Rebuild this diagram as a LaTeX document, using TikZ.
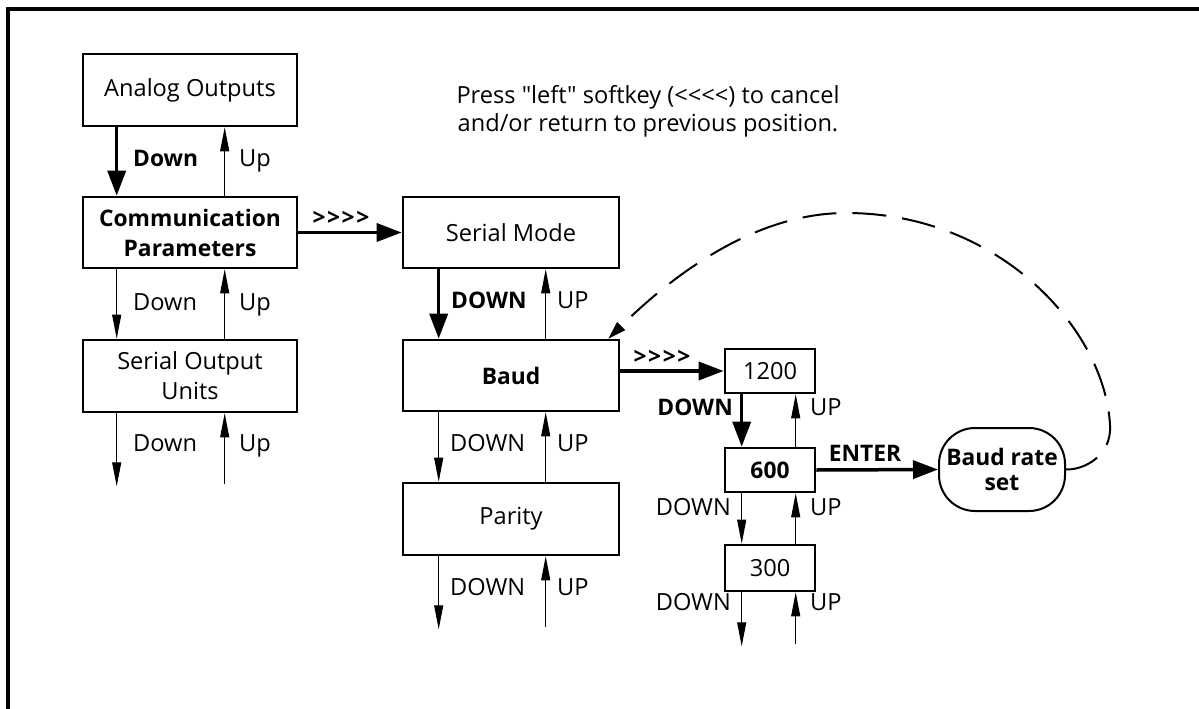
\documentclass[tikz,border=0pt]{standalone}
\usepackage{fontspec}
\setmainfont{Open Sans}
\newfontfamily\plainfont{Open Sans}
\usetikzlibrary{arrows.meta,calc}
\begin{document}
\begin{tikzpicture}[x=1pt,y=-1pt,
  every node/.style={font=\fontsize{23.6}{30}\selectfont},
  bf/.style={font=\fontsize{22.8}{30}\selectfont\bfseries},
  box/.style={draw,line width=2.6pt,minimum width=214pt,minimum height=72pt,inner sep=0pt,align=center},
  sbox/.style={draw,line width=2.6pt,minimum width=90pt,minimum height=44pt,inner sep=0pt,align=center},
  lbl/.style={inner sep=0pt,text height=16pt,text depth=0pt},
  tharrow/.style={line width=3.5pt,-{Triangle[length=25pt,width=18pt]}},
  tnarrow/.style={line width=1pt,-{Triangle[length=24pt,width=9pt]}},
  loopline/.style={line width=2pt,dash pattern=on 34pt off 16pt,-{Triangle[length=18pt,width=11pt]}},
  gt/.style={inner sep=0pt,text height=16pt,text depth=0pt,font=\fontsize{22.8}{30}\plainfont\bfseries}
]
\useasboundingbox (0,0) rectangle (1199,709);
\draw[line width=4pt] (8,709) -- (8,9) -- (1199,9);

% note
\node[align=center,font=\fontsize{23.6}{28}\plainfont] (note) at (648,111) {Press "left" softkey (<<<<) to cancel\\and/or return to previous position.};

% left column
\node[box] (AO) at (190,90) {Analog Outputs};
\node[box,bf,minimum height=71pt] (CP) at (190,232.5) {Communication\\Parameters};
\node[box] (SOU) at (190,376) {Serial Output\\Units};

\draw[tharrow] ([xshift=35pt]AO.south west) -- ([xshift=35pt]CP.north west);
\draw[tnarrow] ([xshift=143pt]CP.north west) -- ([xshift=143pt]AO.south west);
\draw[tnarrow] ([xshift=35pt]CP.south west) -- ([xshift=35pt]SOU.north west);
\draw[tnarrow] ([xshift=143pt]SOU.north west) -- ([xshift=143pt]CP.south west);
\draw[tnarrow] ([xshift=35pt]SOU.south west) -- ++(0,73);
\draw[tnarrow] ([xshift=143pt,yshift=-71pt]SOU.south west) -- ([xshift=143pt]SOU.south west);

\node[lbl,bf,anchor=west] (l1) at (133,158) {Down};
\node[lbl,anchor=west] (l2) at (239,158) {Up};
\node[lbl,anchor=west] (l3) at (133,302) {Down};
\node[lbl,anchor=west] (l4) at (239,302) {Up};
\node[lbl,anchor=west] (l5) at (133,443) {Down};
\node[lbl,anchor=west] (l6) at (239,443) {Up};

% middle column
\node[box,minimum width=216pt,minimum height=71pt] (SM) at (511,232.5) {Serial Mode};
\node[box,bf,minimum width=216pt,minimum height=71pt] (BD) at (511,375.5) {Baud};
\node[box,minimum width=216pt] (PA) at (511,519) {Parity};

\draw[tharrow] (CP.east) -- (SM.west);
\node[gt] (g1) at (341,217) {>\hspace{1.5pt}>\hspace{1.5pt}>\hspace{1.5pt}>};

\draw[tharrow] ([xshift=37pt]SM.south west) -- ([xshift=37pt]BD.north west);
\draw[tnarrow] ([xshift=144pt]BD.north west) -- ([xshift=144pt]SM.south west);
\draw[tnarrow] ([xshift=37pt]BD.south west) -- ([xshift=37pt]PA.north west);
\draw[tnarrow] ([xshift=144pt]PA.north west) -- ([xshift=144pt]BD.south west);
\draw[tnarrow] ([xshift=37pt]PA.south west) -- ++(0,73);
\draw[tnarrow] ([xshift=144pt,yshift=-71pt]PA.south west) -- ([xshift=144pt]PA.south west);

\node[lbl,bf,anchor=west] (m1) at (451,300) {DOWN};
\node[lbl,anchor=west] (m2) at (557,300) {UP};
\node[lbl,anchor=west] (m3) at (450,443) {DOWN};
\node[lbl,anchor=west] (m4) at (557,443) {UP};
\node[lbl,anchor=west] (m5) at (450,587) {DOWN};
\node[lbl,anchor=west] (m6) at (557,587) {UP};

% right column
\node[sbox] (N12) at (770,371) {1200};
\node[sbox,bf] (N6) at (770,470) {600};
\node[sbox,minimum height=46pt] (N3) at (770,568) {300};

\draw[tharrow] (BD.east |- N12.west) -- (N12.west);
\node[gt] (g2) at (662,356) {>\hspace{1.5pt}>\hspace{1.5pt}>\hspace{1.5pt}>};

\draw[tharrow] ([xshift=18pt]N12.south west) -- ([xshift=18pt]N6.north west);
\draw[tnarrow] ([xshift=72pt]N6.north west) -- ([xshift=72pt]N12.south west);
\draw[tnarrow] ([xshift=18pt]N6.south west) -- ([xshift=18pt]N3.north west);
\draw[tnarrow] ([xshift=72pt]N3.north west) -- ([xshift=72pt]N6.south west);
\draw[tnarrow] ([xshift=18pt]N3.south west) -- ++(0,54);
\draw[tnarrow] ([xshift=72pt,yshift=-52pt]N3.south west) -- ([xshift=72pt]N3.south west);

\node[lbl,bf,anchor=east] (r1) at (733,407) {DOWN};
\node[lbl,anchor=west] (r2) at (810,407) {UP};
\node[lbl,anchor=east] (r3) at (731,507) {DOWN};
\node[lbl,anchor=west] (r4) at (810,507) {UP};
\node[lbl,anchor=east] (r5) at (731,602) {DOWN};
\node[lbl,anchor=west] (r6) at (810,602) {UP};

% baud rate set
\node[draw,line width=2pt,rounded corners=36pt,minimum width=126pt,minimum height=83pt,inner sep=0pt,align=center,font=\fontsize{22.8}{25}\selectfont\bfseries] (BRS) at (1002,469.5) {Baud rate\\set};
\draw[tharrow] (N6.east) -- (BRS.west);
\node[lbl,bf] (en) at (865,453) {ENTER};

\draw[loopline] (BRS.east) .. controls (1085,470) and (1112,455) .. (1110,425)
  .. controls (1105,330) and (1000,213) .. (846,213)
  .. controls (760,213) and (680,268) .. ([xshift=-12pt]BD.north east);
\end{tikzpicture}
\end{document}
